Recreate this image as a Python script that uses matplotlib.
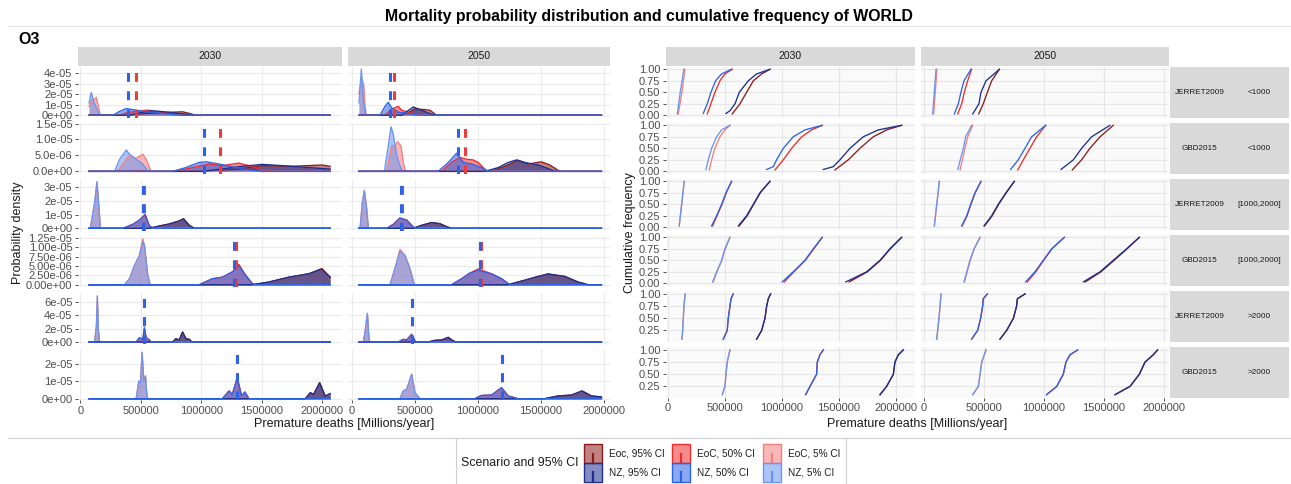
import numpy as np
import matplotlib
matplotlib.use("Agg")
import matplotlib.pyplot as plt
from matplotlib.patches import Rectangle
from matplotlib.lines import Line2D

plt.rcParams['font.family'] = ['Liberation Sans', 'DejaVu Sans']

# ---- facets / series -------------------------------------------------------
YEARS = ['2030', '2050']
MODELS = ['JERRET2009', 'GBD2015', 'JERRET2009', 'GBD2015', 'JERRET2009', 'GBD2015']
BINS = ['<1000', '<1000', '[1000,2000]', '[1000,2000]', '>2000', '>2000']
# series order: EoC 95, EoC 50, EoC 5, NZ 95, NZ 50, NZ 5
LEGEND_LABELS = ['Eoc, 95% CI', 'EoC, 50% CI', 'EoC, 5% CI',
                 'NZ, 95% CI', 'NZ, 50% CI', 'NZ, 5% CI']
COLORS = ['#8E1B1B', '#EE2C2C', '#F47F7F', '#1D2F8F', '#2A63E8', '#6A95F0']
DRAW_ORDER = [2, 0, 1, 5, 3, 4]

# x range of the data per year column (thousand deaths)
XRANGE_2030 = (71, 2065)
XRANGE_2050 = (55, 1982)

# ---- density curves: (premature deaths [thousand], density [1e-6]) --------
DENS_R1_2030 = [
    [(461, 0), (540, 1.5), (650, 2.6), (760, 2.9), (845, 3.3), (900, 1.8), (955, 0)],
    [(324, 0), (380, 2.2), (450, 3.5), (516, 4.4), (560, 4.9), (650, 2.8), (790, 2.0), (872, 0.6), (900, 0)],
    [(71, 8.5), (99, 15.5), (110, 14), (132, 17), (148, 8.5), (165, 0)],
    [(406, 0), (480, 2.0), (584, 4.3), (650, 3.8), (760, 2.5), (870, 1.0), (927, 0)],
    [(269, 0), (320, 3.5), (379, 6.4), (450, 5.0), (516, 3.8), (653, 2.2), (790, 0.5), (830, 0)],
    [(71, 11.7), (90, 21.8), (110, 13), (132, 7), (159, 0)],
]
DENS_R1_2050 = [
    [(421, 0), (500, 6.0), (579, 5.4), (619, 4.7), (650, 2.0), (672, 0)],
    [(262, 0), (315, 6.0), (368, 8.5), (394, 4.7), (474, 2.2), (553, 0)],
    [(55, 21), (77, 35), (93, 29), (103, 8.5), (114, 0)],
    [(394, 0), (487, 7.9), (553, 4.7), (619, 1.5), (659, 0)],
    [(222, 0), (262, 8.5), (288, 12.3), (315, 7), (368, 2.8), (421, 2.2), (474, 1.0), (527, 0)],
    [(55, 11.7), (74, 43.9), (90, 14.8), (108, 0)],
]
DENS_R2_2030 = [
    [(1119, 0), (1339, 0.9), (1503, 1.8), (1750, 1.6), (1997, 2.0), (2065, 1.6)],
    [(790, 0), (927, 1.2), (1064, 2.3), (1174, 1.8), (1311, 2.6), (1393, 1.8), (1503, 0.5), (1613, 0)],
    [(310, 0), (379, 3.8), (406, 4.9), (461, 4.1), (516, 5.4), (543, 3.8), (584, 0)],
    [(1009, 0), (1201, 0.9), (1339, 1.6), (1503, 2.2), (1668, 1.8), (1887, 1.2), (2065, 0.7)],
    [(763, 0), (872, 1.2), (982, 2.8), (1037, 3.0), (1147, 2.3), (1284, 1.2), (1393, 0.5), (1503, 0)],
    [(283, 0), (324, 3.8), (379, 6.7), (406, 5.4), (461, 3.8), (516, 2.3), (557, 0.2), (571, 0)],
]
DENS_R2_2050 = [
    [(1109, 0), (1241, 2.0), (1320, 3.5), (1399, 2.3), (1505, 3.0), (1572, 2.0), (1651, 0)],
    [(712, 0), (791, 2.8), (857, 4.4), (910, 3.8), (963, 3.6), (1003, 2.8), (1056, 0.7), (1082, 0)],
    [(275, 0), (315, 8), (341, 8), (362, 9.3), (389, 8), (407, 2.8), (426, 0)],
    [(1056, 0), (1162, 1.2), (1241, 2.8), (1307, 3.6), (1373, 2.8), (1479, 2.0), (1558, 0.9), (1611, 0)],
    [(685, 0), (765, 2.8), (831, 5.7), (884, 2.8), (950, 2.3), (1029, 1.2), (1082, 0)],
    [(257, 0), (288, 8), (310, 14.0), (328, 11.6), (355, 4.9), (381, 1.8), (400, 0)],
]
DENS_R3_2030 = [
    [(571, 0), (653, 1.7), (735, 3.2), (817, 5.4), (853, 7.1), (900, 2.2), (941, 0)],
    [(351, 0), (433, 2.9), (488, 6.1), (535, 10.3), (571, 1.7), (612, 0)],
    [(82, 0), (118, 18.9), (137, 34.3), (154, 14), (165, 0)],
    [(571, 0), (653, 1.7), (735, 3.2), (817, 5.4), (853, 6.9), (900, 2.2), (941, 0)],
    [(351, 0), (433, 2.9), (488, 6.1), (535, 9.8), (571, 1.7), (612, 0)],
    [(82, 0), (118, 18.9), (137, 33.6), (154, 14), (165, 0)],
]
DENS_R3_2050 = [
    [(487, 0), (553, 2.2), (632, 4.2), (699, 3.4), (751, 1.2), (791, 0)],
    [(275, 0), (328, 2.9), (381, 7.6), (434, 6.1), (487, 1.0), (513, 0)],
    [(64, 0), (82, 18.9), (98, 28), (114, 16.4), (130, 0)],
    [(487, 0), (553, 2.2), (632, 4.2), (699, 3.4), (751, 1.2), (791, 0)],
    [(275, 0), (328, 2.9), (381, 7.4), (434, 6.1), (487, 1.0), (513, 0)],
    [(64, 0), (82, 18.9), (98, 27.4), (114, 16.4), (130, 0)],
]
DENS_R4_2030 = [
    [(1421, 0), (1558, 0.7), (1723, 2.0), (1887, 2.9), (1997, 4.3), (2065, 2.0)],
    [(982, 0), (1092, 1.6), (1174, 2.0), (1256, 3.4), (1311, 5.4), (1366, 2.5), (1421, 0.3), (1448, 0)],
    [(365, 0), (406, 1.6), (447, 5.1), (488, 7.8), (516, 12.2), (529, 10.5), (557, 2.5), (576, 0)],
    [(1421, 0), (1558, 0.7), (1723, 2.0), (1887, 2.9), (1997, 4.1), (2065, 2.0)],
    [(982, 0), (1092, 1.6), (1174, 2.0), (1256, 3.4), (1311, 5.0), (1366, 2.5), (1421, 0.3), (1448, 0)],
    [(365, 0), (406, 1.6), (447, 5.1), (488, 7.8), (516, 11.4), (529, 10.5), (557, 2.5), (576, 0)],
]
DENS_R4_2050 = [
    [(1241, 0), (1373, 1.2), (1479, 2.2), (1558, 2.9), (1691, 2.2), (1797, 0.7), (1876, 0)],
    [(791, 0), (871, 1.6), (937, 3.1), (1003, 4.2), (1109, 2.9), (1188, 1.6), (1254, 0)],
    [(302, 0), (341, 4.3), (381, 9.4), (421, 7.8), (460, 4.3), (495, 0)],
    [(1241, 0), (1373, 1.2), (1479, 2.2), (1558, 2.8), (1691, 2.2), (1797, 0.7), (1876, 0)],
    [(791, 0), (871, 1.6), (937, 3.1), (1003, 3.8), (1109, 2.9), (1188, 1.6), (1254, 0)],
    [(302, 0), (341, 4.3), (381, 8.9), (421, 7.8), (460, 4.3), (495, 0)],
]
DENS_R5_2030 = [
    [(763, 0), (790, 5), (817, 3), (845, 15), (872, 5), (900, 4), (922, 0)],
    [(461, 0), (488, 6.5), (516, 4), (529, 21.5), (543, 6.5), (571, 3), (584, 0)],
    [(118, 0), (132, 24), (140, 69), (148, 19), (159, 0)],
    [(763, 0), (790, 5), (817, 3), (845, 15), (872, 5), (900, 4), (922, 0)],
    [(461, 0), (488, 6.5), (516, 4), (529, 21.5), (543, 6.5), (571, 3), (584, 0)],
    [(118, 0), (132, 24), (140, 69), (148, 19), (159, 0)],
]
DENS_R5_2050 = [
    [(606, 0), (659, 2.5), (712, 3), (765, 7), (804, 1.5), (831, 0)],
    [(368, 0), (407, 4), (434, 3), (474, 11.5), (500, 1.5), (513, 0)],
    [(90, 0), (103, 14), (122, 43), (135, 4), (143, 0)],
    [(606, 0), (659, 2.5), (712, 3), (765, 7), (804, 1.5), (831, 0)],
    [(368, 0), (407, 4), (434, 3), (474, 11.5), (500, 1.5), (513, 0)],
    [(90, 0), (103, 14), (122, 43), (135, 4), (143, 0)],
]
DENS_R6_2030 = [
    [(1860, 0), (1901, 3.5), (1928, 2.5), (1978, 9.3), (2024, 1.5), (2065, 2.9)],
    [(1174, 0), (1229, 4.5), (1256, 2.5), (1297, 12.2), (1333, 1.5), (1360, 3.9), (1393, 0)],
    [(461, 0), (483, 10.3), (497, 9.3), (510, 26.8), (524, 10.3), (538, 13.2), (551, 0.6), (560, 0)],
    [(1860, 0), (1901, 3.5), (1928, 2.5), (1978, 9.3), (2024, 1.5), (2065, 2.9)],
    [(1174, 0), (1229, 4.5), (1256, 2.5), (1297, 12.2), (1333, 1.5), (1360, 3.9), (1393, 0)],
    [(461, 0), (483, 10.3), (497, 9.3), (510, 26.8), (524, 10.3), (538, 13.2), (551, 0.6), (560, 0)],
]
DENS_R6_2050 = [
    [(1532, 0), (1638, 1.6), (1744, 2.1), (1828, 4.5), (1902, 1.6), (1982, 1.0)],
    [(976, 0), (1029, 1.9), (1109, 2.1), (1188, 6.4), (1241, 1.6), (1320, 0)],
    [(381, 0), (407, 4.5), (434, 5.4), (474, 14.2), (500, 3.5), (540, 0)],
    [(1532, 0), (1638, 1.6), (1744, 2.1), (1828, 4.5), (1902, 1.6), (1982, 1.0)],
    [(976, 0), (1029, 1.9), (1109, 2.1), (1188, 6.4), (1241, 1.6), (1320, 0)],
    [(381, 0), (407, 4.5), (434, 5.4), (474, 14.2), (500, 3.5), (540, 0)],
]

# dashed reference lines (EoC, NZ), thousand deaths
VLINES_2030 = [(458, 392), (1152, 1023), (527, 516), (1284, 1270), (529, 529), (1297, 1297)]
VLINES_2050 = [(333, 302), (897, 839), (397, 386), (1027, 1016), (474, 474), (1188, 1188)]

# ---- cumulative frequency: (premature deaths [thousand], cum. frequency) ---
CDF_R1_2030 = [
    [(564, 0.03), (632, 0.25), (690, 0.5), (749, 0.75), (822, 0.9), (895, 1.0)],
    [(345, 0.03), (377, 0.25), (412, 0.5), (456, 0.75), (500, 0.9), (564, 1.0)],
    [(91, 0.03), (123, 0.5), (149, 1.0)],
    [(509, 0.04), (544, 0.1), (588, 0.25), (626, 0.5), (705, 0.75), (778, 0.9), (895, 1.0)],
    [(310, 0.04), (345, 0.25), (377, 0.5), (418, 0.75), (471, 0.9), (558, 1.0)],
    [(82, 0.03), (108, 0.5), (140, 1.0)],
]
CDF_R1_2050 = [
    [(456, 0.03), (494, 0.25), (528, 0.5), (564, 0.75), (628, 1.0)],
    [(281, 0.03), (314, 0.25), (336, 0.5), (364, 0.75), (397, 1.0)],
    [(81, 0.03), (108, 1.0)],
    [(406, 0.03), (458, 0.25), (475, 0.5), (517, 0.75), (628, 1.0)],
    [(253, 0.03), (286, 0.25), (308, 0.5), (333, 0.75), (392, 1.0)],
    [(72, 0.03), (100, 1.0)],
]
CDF_R2_2030 = [
    [(1465, 0.03), (1582, 0.25), (1684, 0.5), (1801, 0.75), (1918, 0.9), (2050, 1.0)],
    [(939, 0.03), (1012, 0.25), (1085, 0.5), (1173, 0.75), (1260, 0.9), (1354, 1.0)],
    [(363, 0.03), (383, 0.25), (412, 0.5), (456, 0.75), (500, 0.9), (544, 1.0)],
    [(1363, 0.04), (1450, 0.1), (1509, 0.25), (1597, 0.5), (1713, 0.75), (1845, 0.9), (2050, 1.0)],
    [(866, 0.04), (924, 0.1), (953, 0.25), (1012, 0.5), (1099, 0.75), (1202, 0.9), (1354, 1.0)],
    [(333, 0.04), (354, 0.25), (383, 0.5), (427, 0.75), (471, 0.9), (544, 1.0)],
]
CDF_R2_2050 = [
    [(1236, 0.03), (1314, 0.25), (1383, 0.5), (1467, 0.75), (1578, 1.0)],
    [(781, 0.03), (828, 0.25), (883, 0.5), (939, 0.75), (1014, 1.0)],
    [(300, 0.03), (342, 0.5), (364, 0.75), (406, 1.0)],
    [(1142, 0.04), (1245, 0.25), (1314, 0.5), (1397, 0.75), (1550, 1.0)],
    [(722, 0.04), (786, 0.25), (842, 0.5), (897, 0.75), (1014, 1.0)],
    [(281, 0.04), (328, 0.5), (347, 0.75), (397, 1.0)],
]
CDF_R3_2030 = [
    [(625, 0.03), (695, 0.25), (752, 0.5), (810, 0.75), (895, 1.0)],
    [(392, 0.03), (430, 0.25), (474, 0.5), (512, 0.75), (558, 1.0)],
    [(99, 0.03), (143, 1.0)],
    [(617, 0.03), (690, 0.25), (749, 0.5), (807, 0.75), (895, 1.0)],
    [(383, 0.03), (427, 0.25), (471, 0.5), (509, 0.75), (558, 1.0)],
    [(99, 0.03), (143, 1.0)],
]
CDF_R3_2050 = [
    [(505, 0.03), (568, 0.25), (622, 0.5), (685, 0.75), (753, 1.0)],
    [(318, 0.03), (359, 0.25), (391, 0.5), (427, 0.75), (475, 1.0)],
    [(86, 0.03), (128, 1.0)],
    [(500, 0.03), (564, 0.25), (619, 0.5), (683, 0.75), (753, 1.0)],
    [(314, 0.03), (356, 0.25), (389, 0.5), (425, 0.75), (475, 1.0)],
    [(86, 0.03), (128, 1.0)],
]
CDF_R4_2030 = [
    [(1590, 0.03), (1750, 0.25), (1865, 0.5), (1950, 0.75), (2050, 1.0)],
    [(1020, 0.03), (1105, 0.25), (1205, 0.5), (1280, 0.75), (1354, 1.0)],
    [(398, 0.03), (430, 0.25), (473, 0.5), (502, 0.75), (544, 1.0)],
    [(1561, 0.03), (1743, 0.25), (1860, 0.5), (1947, 0.75), (2050, 1.0)],
    [(1003, 0.03), (1099, 0.25), (1202, 0.5), (1275, 0.75), (1354, 1.0)],
    [(392, 0.03), (427, 0.25), (471, 0.5), (500, 0.75), (544, 1.0)],
]
CDF_R4_2050 = [
    [(1345, 0.03), (1475, 0.25), (1585, 0.5), (1692, 0.75), (1795, 1.0)],
    [(860, 0.03), (932, 0.25), (998, 0.5), (1066, 0.75), (1170, 1.0)],
    [(338, 0.03), (360, 0.25), (386, 0.5), (419, 0.75), (467, 1.0)],
    [(1328, 0.03), (1467, 0.25), (1578, 0.5), (1689, 0.75), (1795, 1.0)],
    [(847, 0.03), (925, 0.25), (994, 0.5), (1064, 0.75), (1170, 1.0)],
    [(333, 0.03), (356, 0.25), (383, 0.5), (417, 0.75), (467, 1.0)],
]
CDF_R5_2030 = [
    [(778, 0.07), (822, 0.25), (851, 0.5), (866, 0.75), (880, 0.9), (901, 1.0)],
    [(485, 0.07), (520, 0.25), (529, 0.5), (544, 0.75), (553, 0.9), (573, 1.0)],
    [(123, 0.07), (129, 0.25), (135, 0.5), (140, 0.75), (152, 1.0)],
    [(778, 0.07), (822, 0.25), (851, 0.5), (866, 0.75), (880, 0.9), (901, 1.0)],
    [(485, 0.07), (520, 0.25), (529, 0.5), (544, 0.75), (553, 0.9), (573, 1.0)],
    [(123, 0.07), (129, 0.25), (135, 0.5), (140, 0.75), (152, 1.0)],
]
CDF_R5_2050 = [
    [(633, 0.07), (689, 0.25), (745, 0.5), (772, 0.75), (778, 0.9), (842, 1.0)],
    [(397, 0.07), (447, 0.25), (472, 0.5), (489, 0.75), (494, 0.9), (528, 1.0)],
    [(106, 0.07), (125, 0.5), (142, 1.0)],
    [(633, 0.07), (689, 0.25), (745, 0.5), (772, 0.75), (778, 0.9), (842, 1.0)],
    [(397, 0.07), (447, 0.25), (472, 0.5), (489, 0.75), (494, 0.9), (528, 1.0)],
    [(106, 0.07), (125, 0.5), (142, 1.0)],
]
CDF_R6_2030 = [
    [(1860, 0.08), (1918, 0.25), (1977, 0.5), (1991, 0.75), (2021, 0.9), (2064, 1.0)],
    [(1208, 0.08), (1246, 0.25), (1304, 0.5), (1310, 0.75), (1333, 0.9), (1363, 1.0)],
    [(477, 0.08), (500, 0.25), (509, 0.5), (520, 0.75), (544, 1.0)],
    [(1860, 0.08), (1918, 0.25), (1977, 0.5), (1991, 0.75), (2021, 0.9), (2064, 1.0)],
    [(1208, 0.08), (1246, 0.25), (1304, 0.5), (1310, 0.75), (1333, 0.9), (1363, 1.0)],
    [(477, 0.08), (500, 0.25), (509, 0.5), (520, 0.75), (544, 1.0)],
]
CDF_R6_2050 = [
    [(1592, 0.08), (1717, 0.25), (1795, 0.5), (1842, 0.75), (1911, 0.9), (1947, 1.0)],
    [(1022, 0.08), (1106, 0.25), (1161, 0.5), (1183, 0.75), (1217, 0.9), (1281, 1.0)],
    [(406, 0.08), (453, 0.25), (467, 0.5), (481, 0.75), (517, 1.0)],
    [(1592, 0.08), (1717, 0.25), (1795, 0.5), (1842, 0.75), (1911, 0.9), (1947, 1.0)],
    [(1022, 0.08), (1106, 0.25), (1161, 0.5), (1183, 0.75), (1217, 0.9), (1281, 1.0)],
    [(406, 0.08), (453, 0.25), (467, 0.5), (481, 0.75), (517, 1.0)],
]

# ---- axis ticks ------------------------------------------------------------
X_TICKS = [0, 500000, 1000000, 1500000, 2000000]
X_TICK_LABELS = ['0', '500000', '1000000', '1500000', '2000000']
DENS_YTICKS = [
    ([0, 1e-5, 2e-5, 3e-5, 4e-5], ['0e+00', '1e-05', '2e-05', '3e-05', '4e-05']),
    ([0, 5e-6, 1e-5, 1.5e-5], ['0.0e+00', '5.0e-06', '1.0e-05', '1.5e-05']),
    ([0, 1e-5, 2e-5, 3e-5], ['0e+00', '1e-05', '2e-05', '3e-05']),
    ([0, 2.5e-6, 5e-6, 7.5e-6, 1e-5, 1.25e-5],
     ['0.00e+00', '2.50e-06', '5.00e-06', '7.50e-06', '1.00e-05', '1.25e-05']),
    ([0, 2e-5, 4e-5, 6e-5], ['0e+00', '2e-05', '4e-05', '6e-05']),
    ([0, 1e-5, 2e-5], ['0e+00', '1e-05', '2e-05']),
]
DENS_YLIM = [(-2.6e-6, 45.8e-6), (-0.95e-6, 15.05e-6), (-1.8e-6, 35.5e-6),
             (-0.66e-6, 12.9e-6), (-2.4e-6, 74.1e-6), (-0.76e-6, 28.9e-6)]
CDF_YTICKS_FULL = [0, 0.25, 0.5, 0.75, 1.0]
CDF_YTICKS_PART = [0.25, 0.5, 0.75, 1.0]

DENS_ROWS = [(DENS_R1_2030, DENS_R1_2050), (DENS_R2_2030, DENS_R2_2050),
             (DENS_R3_2030, DENS_R3_2050), (DENS_R4_2030, DENS_R4_2050),
             (DENS_R5_2030, DENS_R5_2050), (DENS_R6_2030, DENS_R6_2050)]
CDF_ROWS = [(CDF_R1_2030, CDF_R1_2050), (CDF_R2_2030, CDF_R2_2050),
            (CDF_R3_2030, CDF_R3_2050), (CDF_R4_2030, CDF_R4_2050),
            (CDF_R5_2030, CDF_R5_2050), (CDF_R6_2030, CDF_R6_2050)]

# ---- figure ----------------------------------------------------------------
W, H = 1291, 484
fig = plt.figure(figsize=(W / 100, H / 100), dpi=100)
TXT = '#1A1A1A'
TICK_TXT = '#4D4D4D'


def px_axes(x0, y0, w, h):
    return fig.add_axes([x0 / W, 1 - (y0 + h) / H, w / W, h / H])


def style(ax, bg, grid):
    ax.set_facecolor(bg)
    for s in ax.spines.values():
        s.set_visible(False)
    ax.grid(True, color=grid, lw=0.8)
    ax.set_axisbelow(True)
    ax.tick_params(length=2.5, width=0.6, color='#333333', labelsize=8,
                   labelcolor=TICK_TXT, pad=1.5)


def strip(x0, y0, w, h, label, size=7.5):
    sa = px_axes(x0, y0, w, h)
    sa.set_facecolor('#D9D9D9')
    sa.set_xticks([])
    sa.set_yticks([])
    for s in sa.spines.values():
        s.set_visible(False)
    sa.text(0.5, 0.5, label, ha='center', va='center', fontsize=size, color=TXT)


def with_tails(curve, xr):
    xs = [p[0] for p in curve]
    ys = [p[1] for p in curve]
    if xs[0] > xr[0]:
        xs, ys = [xr[0]] + xs, [0] + ys
    if xs[-1] < xr[1]:
        xs, ys = xs + [xr[1]], ys + [0]
    return np.array(xs) * 1e3, np.array(ys) * 1e-6


TOP = 67
GAP = 5.4
LEFT_COLS = [(78, 264), (348, 262)]
RIGHT_COLS = [(666, 249), (921, 248)]
DENS_XLIM = [(-20e3, 2163e3), (-32e3, 2050e3)]
CDF_XLIM = [(-17e3, 2167e3), (-25e3, 2042e3)]
XRANGES = [XRANGE_2030, XRANGE_2050]
VLINES = [VLINES_2030, VLINES_2050]

# left block: densities
LH = 51
for j, (cx, cw) in enumerate(LEFT_COLS):
    strip(cx, 46.5, cw, 19.5, YEARS[j])
    for i in range(6):
        ax = px_axes(cx, TOP + i * (LH + GAP), cw, LH)
        style(ax, 'white', '#EBEBEB')
        for k in DRAW_ORDER:
            x, y = with_tails(DENS_ROWS[i][j][k], XRANGES[j])
            ax.fill_between(x, y, color=COLORS[k], alpha=0.55, lw=0)
            ax.plot(x, y, color=COLORS[k], lw=0.95)
        eoc, nz = VLINES[j][i]
        ax.axvline(eoc * 1e3, color='#EE3B3B', lw=2.2, dashes=(2.9, 3.1))
        ax.axvline(nz * 1e3, color='#2A63E8', lw=2.2, dashes=(2.9, 3.1))
        ax.set_xlim(*DENS_XLIM[j])
        ax.set_ylim(*DENS_YLIM[i])
        ax.set_xticks(X_TICKS)
        ax.set_yticks(DENS_YTICKS[i][0])
        if j == 0:
            ax.set_yticklabels(DENS_YTICKS[i][1])
        else:
            ax.tick_params(left=False, labelleft=False)
        if i == 5:
            ax.set_xticklabels(X_TICK_LABELS)
        else:
            ax.tick_params(bottom=False, labelbottom=False)

# right block: cumulative frequency
RH = 50.6
for j, (cx, cw) in enumerate(RIGHT_COLS):
    strip(cx, 46.5, cw, 19.5, YEARS[j])
    for i in range(6):
        ax = px_axes(cx, TOP + i * (RH + GAP), cw, RH)
        style(ax, '#FAFAFA', '#E6E6E6')
        for curve, c in zip(CDF_ROWS[i][j], COLORS):
            x = np.array([p[0] for p in curve]) * 1e3
            f = [p[1] for p in curve]
            ax.plot(x, f, color=c, lw=0.95)
        ax.set_xlim(*CDF_XLIM[j])
        ax.set_xticks(X_TICKS)
        if i < 4:
            ax.set_ylim(-0.05, 1.05)
            ax.set_yticks(CDF_YTICKS_FULL)
            labels = ['%.2f' % v for v in CDF_YTICKS_FULL]
        else:
            ax.set_ylim(0.02, 1.06)
            ax.set_yticks(CDF_YTICKS_PART)
            labels = ['%.2f' % v for v in CDF_YTICKS_PART]
        if j == 0:
            ax.set_yticklabels(labels)
        else:
            ax.tick_params(left=False, labelleft=False)
        if i == 5:
            ax.set_xticklabels(X_TICK_LABELS)
        else:
            ax.tick_params(bottom=False, labelbottom=False)
        if j == 1:
            y0 = TOP + i * (RH + GAP)
            strip(1170, y0, 59, RH, MODELS[i], size=5.9)
            strip(1229, y0, 60, RH, BINS[i], size=5.9)

# texts
fig.text(649 / W, 1 - 17 / H, 'Mortality probability distribution and cumulative frequency of WORLD',
         ha='center', va='center', fontsize=11.4, fontweight='bold', color='black')
fig.add_artist(Line2D([8 / W, 1290 / W], [1 - 25.5 / H] * 2, color='#E3E3E3', lw=0.8))
fig.text(18 / W, 1 - 40 / H, 'O3', ha='left', va='center', fontsize=11.5, fontweight='bold')
fig.text(18 / W, 1 - 233 / H, 'Probability density', rotation=90, ha='center', va='center',
         fontsize=9, color=TXT)
fig.text(630 / W, 1 - 233 / H, 'Cumulative frequency', rotation=90, ha='center', va='center',
         fontsize=9, color=TXT)
fig.text(344 / W, 1 - 424 / H, 'Premature deaths [Millions/year]', ha='center', va='center',
         fontsize=9, color=TXT)
fig.text(917 / W, 1 - 424 / H, 'Premature deaths [Millions/year]', ha='center', va='center',
         fontsize=9, color=TXT)

# legend frame
fig.add_artist(Line2D([8 / W, 1290 / W], [1 - 437.5 / H] * 2, color='#D0D0D0', lw=0.8))
for xv in (455.5, 845.5):
    fig.add_artist(Line2D([xv / W] * 2, [1 - 437.5 / H, 0], color='#D0D0D0', lw=0.8))
fig.text(461 / W, 1 - 463 / H, 'Scenario and 95% CI', ha='left', va='center',
         fontsize=8.9, color=TXT)


class KeyHandler:
    def __init__(self, color):
        self.color = color

    def legend_artist(self, legend, orig_handle, fontsize, handlebox):
        x0, y0 = -handlebox.xdescent, -handlebox.ydescent
        w, h = handlebox.width, handlebox.height
        tr = handlebox.get_transform()
        rect = Rectangle((x0, y0), w, h, facecolor=self.color, alpha=0.55,
                         edgecolor='none', transform=tr)
        edge = Rectangle((x0, y0), w, h, facecolor='none', edgecolor=self.color,
                         lw=1.0, transform=tr)
        stub = Line2D([x0 + w / 2] * 2, [y0, y0 + h / 2], color=self.color, lw=1.6,
                      transform=tr)
        for a in (rect, edge, stub):
            handlebox.add_artist(a)
        return rect


order = [0, 3, 1, 4, 2, 5]
handles = [Rectangle((0, 0), 1, 1) for _ in order]
leg = fig.legend(handles, [LEGEND_LABELS[k] for k in order], ncol=3,
                 loc='center left', bbox_to_anchor=(584 / W, 1 - 463 / H),
                 frameon=False, fontsize=7.2, handlelength=1.8, handleheight=2.5,
                 handletextpad=0.7, columnspacing=0.75, labelspacing=0.0,
                 borderpad=0, borderaxespad=0,
                 handler_map={h: KeyHandler(COLORS[k]) for h, k in zip(handles, order)})
for t in leg.get_texts():
    t.set_color(TXT)

fig.savefig('out.png', dpi=100)
